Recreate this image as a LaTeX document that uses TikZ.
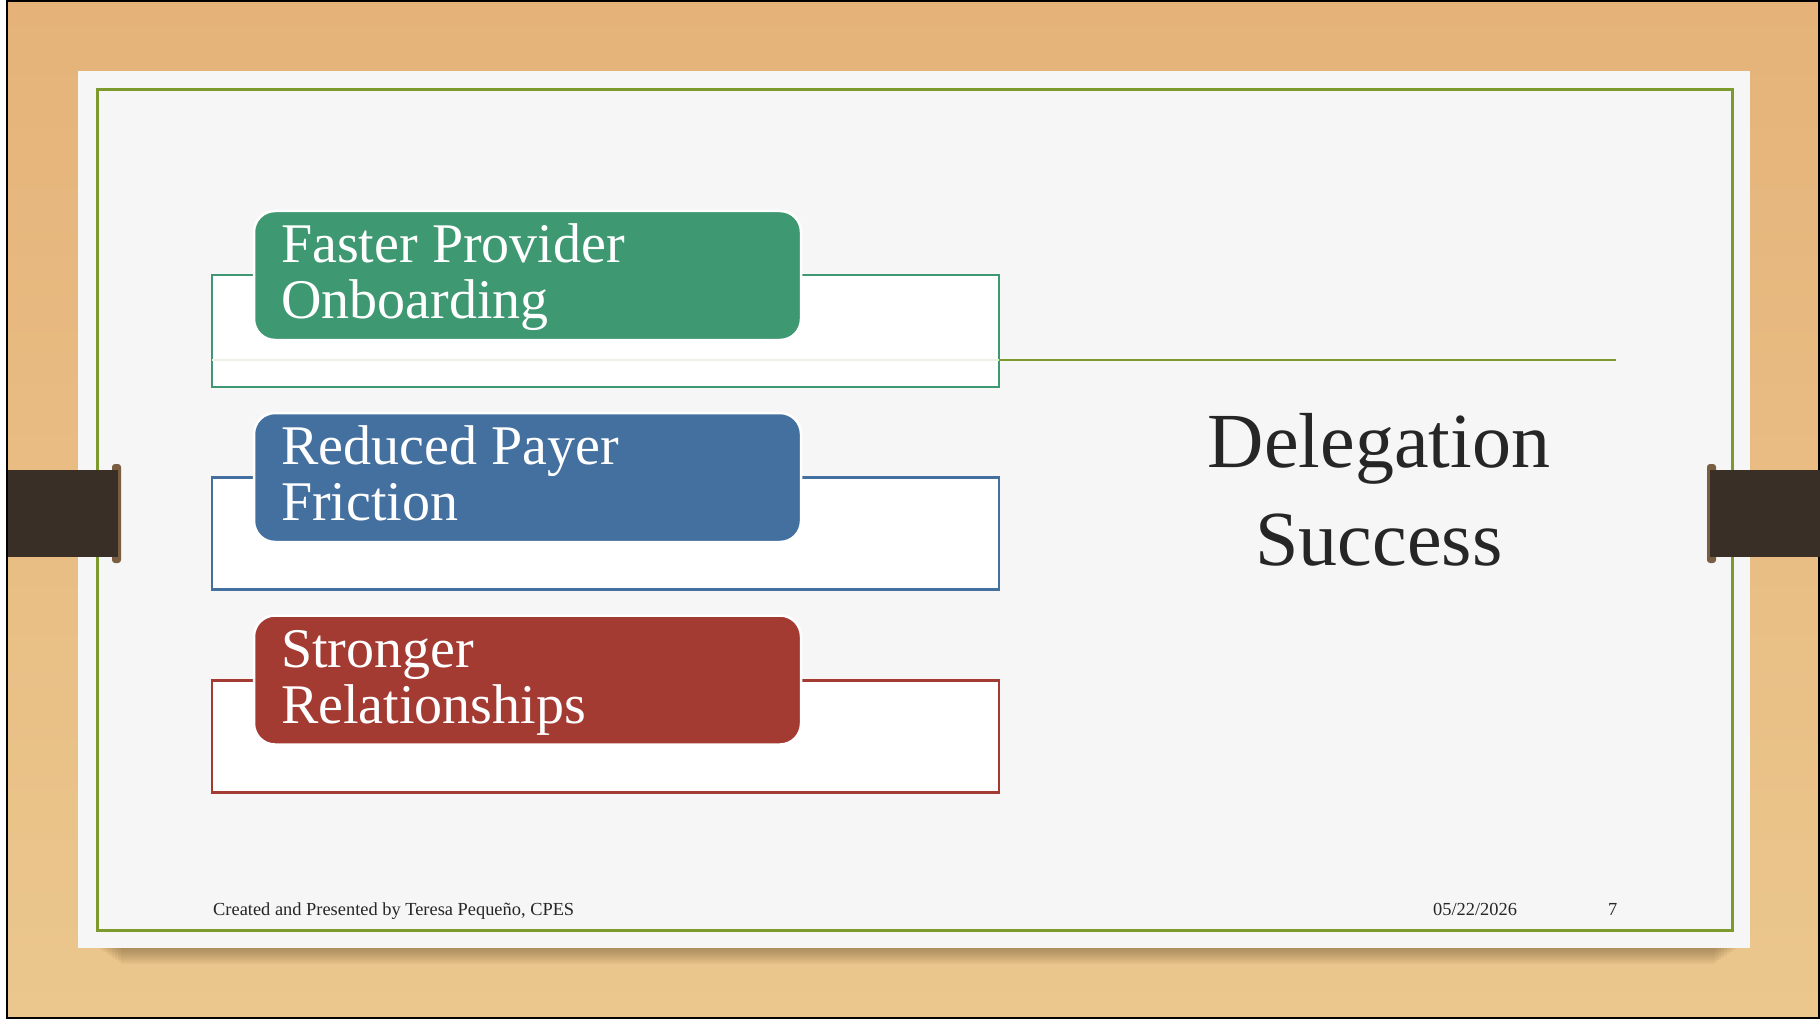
\documentclass[tikz,border=0pt]{standalone}
\usepackage{fontspec}
\setmainfont{Liberation Serif}
\definecolor{woodtop}{HTML}{E5B37A}
\definecolor{woodmid}{HTML}{EAC48B}
\definecolor{woodbot}{HTML}{EBC78D}
\definecolor{paper}{HTML}{F6F6F6}
\definecolor{frameolive}{HTML}{7D9B2D}
\definecolor{cgreen}{HTML}{3E9872}
\definecolor{cblue}{HTML}{4470A0}
\definecolor{cred}{HTML}{A33B33}
\definecolor{barc}{HTML}{3A2F27}
\definecolor{capc}{HTML}{7A5E42}
\definecolor{shadowc}{HTML}{5A4025}
\definecolor{inkc}{HTML}{262626}
\begin{document}
\begin{tikzpicture}[x=1pt,y=-1pt,
  grpbox/.style={draw, line width=2.5pt, fill=white, inner sep=0pt, outer sep=0pt,
    minimum width=787pt, minimum height=112pt},
  pill/.style={draw=white, line width=2.5pt, rounded corners=21pt, inner sep=0pt, outer sep=0pt,
    minimum width=547pt, minimum height=129pt},
  lbl/.style={text=white, align=left, inner sep=0pt, anchor=base west,
    font=\fontsize{56}{56}\selectfont},
  foot/.style={text=inkc, inner sep=0pt, anchor=base west, font=\fontsize{18.4}{22}\selectfont},
  linkline/.style={draw=frameolive, line width=2.5pt},
  bar/.style={fill=barc},
  barcap/.style={fill=capc, rounded corners=3pt}
]
\useasboundingbox (0,0) rectangle (1820,1019);

% wooden desk
\shade[top color=woodtop, middle color=woodmid, bottom color=woodbot] (0,0) rectangle (1820,1019);
\fill[white] (0,0) rectangle (6,1019);
\draw[black, line width=2pt] (7,1) -- (1819,1) -- (1819,1018) -- (7,1018) -- cycle;

% soft shadow under the sheet
\foreach \i in {0,...,7}
  \fill[shadowc, opacity=0.06] (100+\i*3,944) rectangle (1736-\i*3,950+\i*2);

% sheet and its frame
\fill[paper] (78,71) rectangle (1750,948);
\draw[frameolive, line width=3pt] (97,90) rectangle (1732,930);

% group outlines
\node[grpbox, draw=cgreen] (grpA) at (605.5,331) {};
\node[grpbox, draw=cblue]  (grpB) at (605.5,533.5) {};
\node[grpbox, draw=cred]   (grpC) at (605.5,736.5) {};

% link from the first group to the title
\coordinate (linkEnd) at (1616,360);
\draw[frameolive!14!white, line width=2pt] (grpA.west |- linkEnd) -- (grpA.east |- linkEnd);
\draw[linkline] (grpA.east |- linkEnd) -- (linkEnd);

% coloured headers
\node[pill, fill=cgreen] (boxA) at (527.5,275.5) {};
\node[pill, fill=cblue]  (boxB) at (527.5,477.5) {};
\node[pill, fill=cred]   (boxC) at (527.5,680) {};

% labels, placed by the baseline of their last line
\node[lbl] (txtA) at (281,318) {Faster Provider\\Onboarding};
\node[lbl] (txtB) at (281,520) {Reduced Payer\\Friction};
\node[lbl] (txtC) at (281,723) {Stronger\\Relationships};

% title
\node[text=inkc, align=center, inner sep=0pt, anchor=base,
  font=\fontsize{78}{98}\selectfont] (title) at (1379,565) {Delegation\\Success};

% footer
\node[foot] (author) at (213,915) {Created and Presented by Teresa Pequeño, CPES};
\node[foot] (date) at (1433,915) {05/22/2026};
\node[foot] (page) at (1608,915) {7};

% binder clips on both sides
\fill[barcap] (112,464) rectangle (121,563);
\fill[bar] (8,470) rectangle (118,557);
\fill[barcap] (1707,464) rectangle (1716,563);
\fill[bar] (1710,470) rectangle (1820,557);
\end{tikzpicture}
\end{document}
